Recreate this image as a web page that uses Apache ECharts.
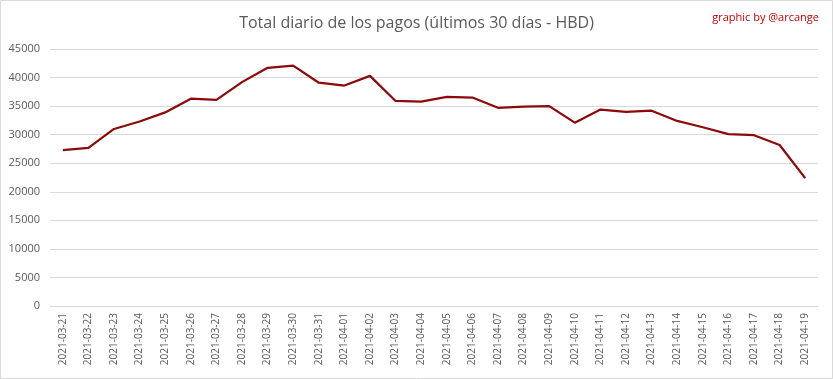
<!DOCTYPE html>
<html>
<head>
<meta charset="utf-8">
<script src="https://cdn.jsdelivr.net/npm/echarts@6/dist/echarts.min.js"></script>
<style>
html,body{margin:0;padding:0;background:#fff;}
#chart{width:833px;height:379px;}
</style>
</head>
<body>
<div id="chart"></div>
<script>
var categories = ["2021-03-21","2021-03-22","2021-03-23","2021-03-24","2021-03-25","2021-03-26","2021-03-27","2021-03-28","2021-03-29","2021-03-30","2021-03-31","2021-04-01","2021-04-02","2021-04-03","2021-04-04","2021-04-05","2021-04-06","2021-04-07","2021-04-08","2021-04-09","2021-04-10","2021-04-11","2021-04-12","2021-04-13","2021-04-14","2021-04-15","2021-04-16","2021-04-17","2021-04-18","2021-04-19"];
var payments = [27300,27700,31000,32300,33900,36300,36100,39200,41700,42100,39100,38600,40300,35900,35800,36600,36500,34700,34900,35000,32100,34400,34000,34200,32400,31300,30100,29900,28200,22400];
var titleText = "Total diario de los pagos (últimos 30 días - HBD)";
var creditText = "graphic by @arcange";

var chart = echarts.init(document.getElementById('chart'), null, {renderer:'canvas'});
chart.setOption({
  animation:false,
  backgroundColor:'#ffffff',
  title:[{
    text:titleText,
    left:'center',
    top:10,
    textStyle:{fontFamily:'Open Sans',fontSize:16,fontWeight:'normal',color:'#595959'}
  },{
    text:creditText,
    right:9,
    top:7,
    textStyle:{fontFamily:'Open Sans',fontSize:11,fontWeight:'normal',color:'#c00000'}
  }],
  graphic:[{
    type:'rect',
    shape:{x:0.5,y:0.5,width:832,height:378},
    style:{fill:'none',stroke:'#d9d9d9',lineWidth:1},
    silent:true
  }],
  grid:{left:50,right:15,top:49,bottom:73,containLabel:false},
  xAxis:{
    type:'category',
    data:categories,
    boundaryGap:true,
    axisLine:{lineStyle:{color:'#d9d9d9'}},
    axisTick:{show:false},
    axisLabel:{interval:0,rotate:90,margin:7,color:'#595959',fontFamily:'Open Sans',fontSize:10}
  },
  yAxis:{
    type:'value',
    min:0,max:45000,interval:5000,
    axisLine:{show:false},
    axisTick:{show:false},
    splitLine:{lineStyle:{color:'#d9d9d9'}},
    axisLabel:{margin:10,color:'#595959',fontFamily:'Open Sans',fontSize:11,formatter:function(v){return String(v);}}
  },
  series:[{
    type:'line',
    data:payments,
    showSymbol:false,
    symbol:'none',
    lineStyle:{color:'#8b0a0a',width:2.25},
    itemStyle:{color:'#8b0a0a'}
  }]
});
</script>
</body>
</html>
